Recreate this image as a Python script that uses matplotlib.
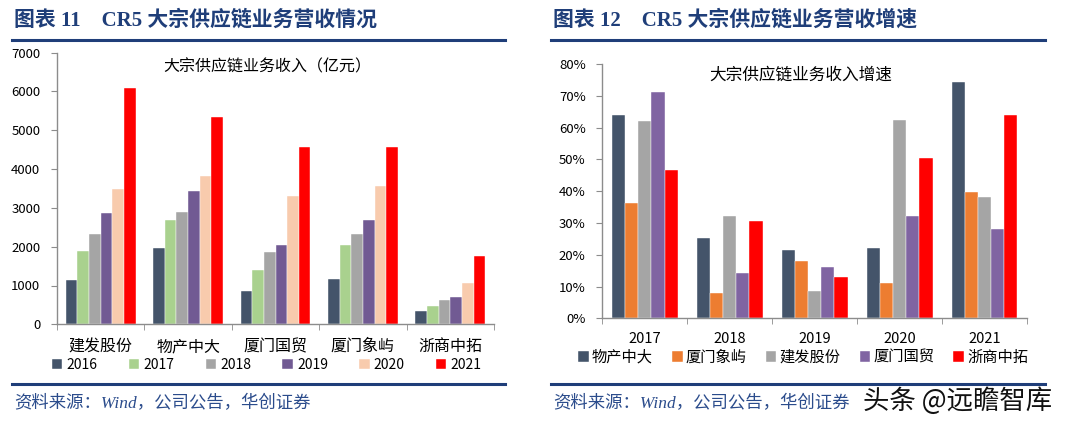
import numpy as np
import matplotlib
matplotlib.use("Agg")
import matplotlib.pyplot as plt
from matplotlib.ticker import FixedLocator, PercentFormatter

plt.rcParams['font.family'] = ['Noto Sans CJK SC', 'DejaVu Sans']

# DATA - left chart (revenue, 亿元)
companies = ["建发股份", "物产中大", "厦门国贸", "厦门象屿", "浙商中拓"]
years = ["2016", "2017", "2018", "2019", "2020", "2021"]
revenue = {
    "2016": [1140, 1965, 870, 1180, 336],
    "2017": [1880, 2700, 1410, 2035, 480],
    "2018": [2340, 2900, 1875, 2320, 628],
    "2019": [2860, 3430, 2035, 2690, 714],
    "2020": [3495, 3825, 3305, 3565, 1075],
    "2021": [6095, 5330, 4560, 4560, 1765],
}

# DATA - right chart (growth, %)
growth_years = ["2017", "2018", "2019", "2020", "2021"]
growth_names = ["物产中大", "厦门象屿", "建发股份", "厦门国贸", "浙商中拓"]
growth = {
    "物产中大": [64.0, 25.2, 21.6, 22.0, 74.4],
    "厦门象屿": [36.3, 8.0, 18.0, 11.2, 39.7],
    "建发股份": [62.1, 32.2, 8.6, 62.4, 38.1],
    "厦门国贸": [71.3, 14.2, 16.2, 32.2, 28.1],
    "浙商中拓": [46.6, 30.7, 13.0, 50.4, 64.0],
}

left_colors = ["#44546A", "#A9D18E", "#A5A5A5", "#715A93", "#F8CBAD", "#FF0000"]
right_colors = ["#44546A", "#ED7D31", "#A5A5A5", "#8064A2", "#FF0000"]

W, H = 1080, 428
fig = plt.figure(figsize=(W / 100, H / 100), dpi=100)
fig.patch.set_facecolor("white")


def fx(x):
    return x / W


def fy(y):
    return 1 - y / H


def add_ax(x0, x1, y_top, y_bot):
    return fig.add_axes([fx(x0), fy(y_bot), fx(x1) - fx(x0), fy(y_top) - fy(y_bot)])


def style_ax(ax, n):
    for s in ["top", "right"]:
        ax.spines[s].set_visible(False)
    for s in ["left", "bottom"]:
        ax.spines[s].set_color("#8C8C8C")
        ax.spines[s].set_linewidth(1.0)
    ax.set_xlim(-0.5, n - 0.5)
    ax.set_xticks(range(n))
    ax.xaxis.set_minor_locator(FixedLocator(np.arange(-0.5, n, 1.0)))
    ax.tick_params(axis="x", which="major", length=0, pad=10, labelsize=11.5)
    ax.tick_params(axis="x", which="minor", length=4, color="#8C8C8C")
    ax.tick_params(axis="y", length=4, color="#8C8C8C", labelsize=9.5, pad=8)


# LEFT CHART
ax1 = add_ax(57, 494, 52.7, 324.3)
x = np.arange(len(companies))
bw = 0.133
for i, yr in enumerate(years):
    ax1.bar(x + (i - 2.5) * bw, revenue[yr], bw, color=left_colors[i], label=yr,
            edgecolor="white", linewidth=0.3)
ax1.set_ylim(0, 7000)
ax1.set_yticks(range(0, 7001, 1000))
style_ax(ax1, len(companies))
ax1.set_xticklabels(companies)
ax1.text(fx(267), fy(66.5), "大宗供应链业务收入（亿元）", transform=fig.transFigure,
         ha="center", va="center", fontsize=11.5)
ax1.legend(ncol=6, loc="center left", bbox_to_anchor=(fx(52), fy(365)),
           bbox_transform=fig.transFigure, frameon=False, fontsize=10,
           handlelength=0.75, handleheight=0.75, handletextpad=0.3,
           columnspacing=2.25, borderaxespad=0, borderpad=0)

# RIGHT CHART
ax2 = add_ax(602.3, 1027, 64, 318.3)
x2 = np.arange(len(growth_years))
bw2 = 0.155
for i, nm in enumerate(growth_names):
    ax2.bar(x2 + (i - 2) * bw2, growth[nm], bw2, color=right_colors[i], label=nm,
            edgecolor="white", linewidth=0.3)
ax2.set_ylim(0, 80)
ax2.set_yticks(range(0, 81, 10))
ax2.yaxis.set_major_formatter(PercentFormatter(decimals=0))
style_ax(ax2, len(growth_years))
ax2.tick_params(axis="x", which="major", pad=10, labelsize=10.5)
ax2.set_xticklabels(growth_years)
ax2.text(fx(801), fy(75), "大宗供应链业务收入增速", transform=fig.transFigure,
         ha="center", va="center", fontsize=12)
ax2.legend(ncol=5, loc="center left", bbox_to_anchor=(fx(578), fy(357.5)),
           bbox_transform=fig.transFigure, frameon=False, fontsize=11,
           handlelength=0.7, handleheight=0.7, handletextpad=0.2,
           columnspacing=1.25, borderaxespad=0, borderpad=0)

# HEADERS, RULES, SOURCES
navy = "#1F3E79"
head_font = ["Liberation Serif", "Noto Sans CJK SC"]
fig.text(fx(14), fy(20), "图表 11    CR5 大宗供应链业务营收情况", fontsize=15,
         fontweight="bold", color=navy, family=head_font, va="center", ha="left")
fig.text(fx(553), fy(20), "图表 12    CR5 大宗供应链业务营收增速", fontsize=15,
         fontweight="bold", color=navy, family=head_font, va="center", ha="left")
for x0, x1 in [(12, 505), (551, 1045)]:
    for yy in (39.5, 383.5):
        fig.add_artist(plt.Line2D([fx(x0), fx(x1)], [fy(yy), fy(yy)], color=navy,
                                  linewidth=2.2, transform=fig.transFigure))
src = "资料来源：Wind，公司公告，华创证券"
fig.text(fx(14), fy(404), src, fontsize=12.5, style="italic", color="#2B4C8C",
         family=head_font, va="center", ha="left")
fig.text(fx(553), fy(404), src, fontsize=12.5, style="italic", color="#2B4C8C",
         family=head_font, va="center", ha="left")
fig.text(fx(1052), fy(401), "头条 @远瞻智库", fontsize=19, color="#111111",
         va="center", ha="right")

fig.savefig("out.png", dpi=100)
